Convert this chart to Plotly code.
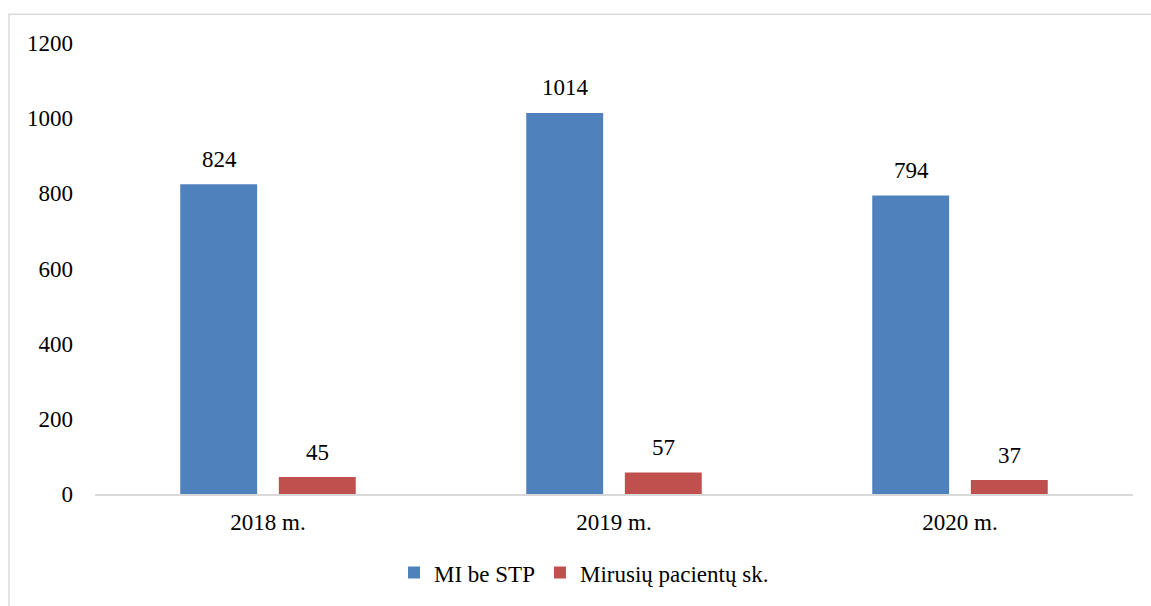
import plotly.graph_objects as go

categories = ["2018 m.", "2019 m.", "2020 m."]
mi_be_stp = [824, 1014, 794]
mirusiu = [45, 57, 37]
series_names = ["MI be STP", "Mirusių pacientų sk."]
y_ticks = [0, 200, 400, 600, 800, 1000, 1200]

FONT = "Liberation Serif, Times New Roman, serif"
FS = 23
COLORS = ["#4F81BD", "#C0504D"]

fig = go.Figure()
for name, vals, col in zip(series_names, [mi_be_stp, mirusiu], COLORS):
    fig.add_trace(go.Bar(x=categories, y=vals, name=name,
                         marker=dict(color=col, line=dict(width=0))))

L, R, T, B = 95, 18, 43, 110
W, H = 1151, 606
pw = W - L - R
ph = H - T - B

# value labels placed above each bar (offset within group in px)
annotations = []
for vals, dx in [(mi_be_stp, -49), (mirusiu, 49)]:
    for c, v in zip(categories, vals):
        annotations.append(dict(x=c, y=v, xref="x", yref="y", text=str(v),
                                showarrow=False, xshift=dx, yshift=25,
                                yanchor="middle",
                                font=dict(family=FONT, size=FS, color="#000")))

fig.update_layout(
    width=W, height=H,
    margin=dict(l=L, r=R, t=T, b=B, pad=0),
    paper_bgcolor="white", plot_bgcolor="white",
    barmode="group", bargap=0.43, bargroupgap=0.22,
    font=dict(family=FONT, size=FS, color="#000"),
    showlegend=True,
    legend=dict(orientation="h", x=(584 - L) / pw, xanchor="center",
                y=-(575 - (H - B)) / ph, yanchor="middle",
                font=dict(family=FONT, size=FS), itemwidth=30,
                traceorder="normal"),
    xaxis=dict(showline=True, linecolor="#d9d9d9", linewidth=1.5,
               ticks="", showgrid=False, tickfont=dict(size=FS),
               ticklabelstandoff=7),
    yaxis=dict(range=[0, 1200], tickvals=y_ticks, showgrid=False,
               zeroline=False, showline=False, ticks="",
               tickfont=dict(size=FS), ticklabelstandoff=21),
    annotations=annotations,
    shapes=[dict(type="path", xref="paper", yref="paper",
                 path=f"M {(9 - L) / pw} {-(620 - (H - B)) / ph} L {(9 - L) / pw} {1 + (T - 14) / ph} L {(1160 - L) / pw} {1 + (T - 14) / ph}",
                 line=dict(color="#d9d9d9", width=1.5))],
)

fig.write_html("out.html", config={"displayModeBar": False},
               post_script="document.body.style.margin='0';document.body.style.overflow='hidden';")
